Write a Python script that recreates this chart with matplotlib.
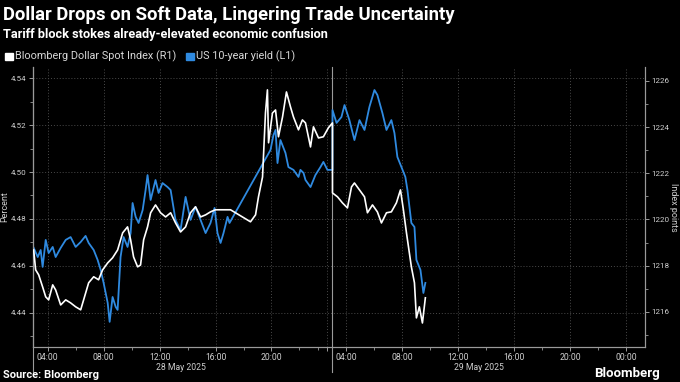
import numpy as np
import matplotlib
matplotlib.use("Agg")
import matplotlib.pyplot as plt
from matplotlib.ticker import FixedLocator, MultipleLocator, FormatStrFormatter

plt.rcParams['font.family'] = ['Roboto', 'DejaVu Sans']

# hours counted from 28 May 2025 00:00
yield_hours = [3.00, 3.29, 3.50, 3.64, 3.86, 4.07, 4.36, 4.57, 4.93, 5.29, 5.64, 6.00, 6.36, 6.71,
               6.93, 7.29, 7.57, 7.79, 8.00, 8.29, 8.43, 8.64, 8.86, 9.00, 9.21, 9.43, 9.71, 9.93,
               10.07, 10.29, 10.50, 10.79, 11.00, 11.14, 11.36, 11.71, 11.93, 12.21, 12.57, 12.79,
               13.14, 13.50, 13.86, 14.21, 14.57, 14.93, 15.29, 15.64, 15.93, 16.14, 16.36, 16.57,
               16.86, 17.00, 19.93, 20.14, 20.29, 20.43, 20.64, 21.00, 21.21, 21.57, 21.93, 22.07,
               22.29, 22.43, 22.79, 23.14, 23.50, 23.71, 24.00, 24.36,
               27.00, 27.29, 27.64, 27.86, 28.21, 28.57, 28.93, 29.29, 29.64, 30.00, 30.21, 30.57,
               30.86, 31.21, 31.43, 31.64, 31.93, 32.21, 32.36, 32.64, 32.86, 33.00, 33.29, 33.50,
               33.64]
us10y = [4.4677, 4.4638, 4.4668, 4.4596, 4.4711, 4.4655, 4.4681, 4.4638, 4.4677, 4.4711, 4.4723,
         4.4681, 4.4702, 4.4728, 4.4698, 4.4668, 4.4626, 4.4583, 4.4528, 4.4443, 4.4362, 4.4468,
         4.4426, 4.4413, 4.4638, 4.4723, 4.4681, 4.4740, 4.4868, 4.4809, 4.4783, 4.4838, 4.4923,
         4.4987, 4.4881, 4.4966, 4.4911, 4.4953, 4.4936, 4.4923, 4.4796, 4.4753, 4.4894, 4.4796,
         4.4851, 4.4796, 4.4740, 4.4783, 4.4847, 4.4740, 4.4698, 4.4740, 4.4809, 4.4783, 4.5094,
         4.5157, 4.5179, 4.5038, 4.5136, 4.5081, 4.5021, 4.5009, 4.4979, 4.5009, 4.4996, 4.4966,
         4.4936, 4.4987, 4.5021, 4.5043, 4.5009, 4.5009,
         4.5264, 4.5209, 4.5234, 4.5285, 4.5221, 4.5136, 4.5221, 4.5179, 4.5277, 4.5349, 4.5328,
         4.5251, 4.5179, 4.5221, 4.5166, 4.5064, 4.5021, 4.4979, 4.4923, 4.4783, 4.4766, 4.4626,
         4.4583, 4.4485, 4.4528]

dxy_hours = [3.00, 3.14, 3.36, 3.64, 3.86, 4.07, 4.36, 4.57, 4.93, 5.29, 5.64, 6.00, 6.36, 6.57,
             6.93, 7.29, 7.64, 7.93, 8.29, 8.64, 9.00, 9.36, 9.71, 9.93, 10.14, 10.43, 10.64, 10.86,
             11.14, 11.36, 11.71, 12.07, 12.43, 12.79, 13.14, 13.50, 13.86, 14.21, 14.57, 14.93,
             15.29, 15.64, 16.00, 17.07, 18.50, 18.86, 19.07, 19.36, 19.57, 19.71, 19.79, 20.07,
             20.29, 20.50, 20.79, 21.07, 21.36, 21.57, 21.93, 22.21, 22.43, 22.79, 23.00, 23.36,
             23.71, 24.07, 24.36,
             27.00, 27.36, 27.71, 28.07, 28.36, 28.57, 28.93, 29.29, 29.50, 29.86, 30.21, 30.50,
             30.86, 31.21, 31.57, 31.86, 32.07, 32.29, 32.64, 32.86, 33.00, 33.21, 33.43, 33.64]
dxy = [1218.68, 1217.82, 1217.60, 1217.08, 1216.65, 1216.52, 1217.17, 1216.95, 1216.30, 1216.52,
       1216.39, 1216.22, 1216.09, 1216.52, 1217.26, 1217.52, 1217.39, 1217.82, 1218.12, 1218.34,
       1218.68, 1219.42, 1219.68, 1219.12, 1218.38, 1217.95, 1218.03, 1219.12, 1219.68, 1220.29,
       1220.63, 1220.29, 1220.11, 1220.29, 1219.85, 1219.46, 1219.68, 1220.29, 1220.55, 1220.11,
       1220.20, 1220.33, 1220.42, 1220.42, 1219.90, 1220.20, 1220.98, 1221.84, 1224.61, 1225.61,
       1223.32, 1224.61, 1224.74, 1223.58, 1224.44, 1225.52, 1224.87, 1224.44, 1223.88, 1224.31,
       1224.18, 1223.14, 1224.01, 1223.53, 1223.58, 1223.97, 1224.18,
       1221.15, 1220.98, 1220.72, 1220.50, 1221.41, 1221.58, 1221.28, 1220.98, 1220.29, 1220.63,
       1220.33, 1219.85, 1220.29, 1220.33, 1220.72, 1221.28, 1220.42, 1219.42, 1217.95, 1217.26,
       1215.74, 1216.22, 1215.52, 1216.61]

tick_hours = [4, 8, 12, 16, 20, 24, 28, 32, 36, 40, 44, 48]
tick_labels = ['04:00', '08:00', '12:00', '16:00', '20:00', '', '04:00', '08:00', '12:00',
               '16:00', '20:00', '00:00']
day_labels = ['28 May 2025', '29 May 2025']


# the axis skips the quiet hours between the two sessions
def to_pos(h):
    h = np.asarray(h, dtype=float)
    return np.where(h <= 24.4, h - 3, h - 5.64)


bg = 'black'
grey = '#9a9a9a'
txt = '#cfcfcf'
blue = '#2f8ae0'

fig = plt.figure(figsize=(6.8, 3.82), dpi=100, facecolor=bg)
ax = fig.add_axes([0.0485, 0.0916, 0.9, 0.733], facecolor=bg)
ax2 = ax.twinx()

ax.plot(to_pos(yield_hours), us10y, color=blue, lw=1.3, zorder=3)
ax2.plot(to_pos(dxy_hours), dxy, color='white', lw=1.2, zorder=3)

ax.set_xlim(-0.05, 43.7)
ax.set_ylim(4.4255, 4.5447)
ax2.set_ylim(1214.48, 1226.6)

ax.yaxis.set_major_locator(FixedLocator([4.44, 4.46, 4.48, 4.50, 4.52, 4.54]))
ax.yaxis.set_minor_locator(MultipleLocator(0.01))
ax.yaxis.set_major_formatter(FormatStrFormatter('%.2f'))
ax2.yaxis.set_major_locator(FixedLocator([1216, 1218, 1220, 1222, 1224, 1226]))
ax2.yaxis.set_minor_locator(MultipleLocator(1))

ax.xaxis.set_major_locator(FixedLocator(to_pos(tick_hours)))
ax.set_xticklabels(tick_labels)
ax.xaxis.set_minor_locator(FixedLocator(to_pos(np.arange(6, 48, 4))))

for a in (ax, ax2):
    a.spines['top'].set_visible(False)
    for s in a.spines.values():
        s.set_color(grey)
        s.set_linewidth(0.8)
    a.tick_params(colors=grey, labelcolor=txt, labelsize=5.8, length=3, width=0.7, pad=1.5)
    a.tick_params(which='minor', colors=grey, length=2, width=0.6)
ax.tick_params(axis='x', labelsize=6.2)

ax.grid(True, axis='both', which='major', color='#4a4a4a', ls=(0, (1, 2)), lw=0.7)
ax.set_axisbelow(True)

# day start lines
for p in (-0.05, float(to_pos(24.36))):
    ax.plot([p, p], [-0.09, 1.0], transform=ax.get_xaxis_transform(), color=grey, lw=0.8,
            clip_on=False, zorder=2)

for h, lab in zip((13.5, 37.5), day_labels):
    ax.text(float(to_pos(h)), -0.058, lab, transform=ax.get_xaxis_transform(),
            ha='center', va='top', color=txt, fontsize=6.2)

ax.set_ylabel('Percent', color=txt, fontsize=6.5)
ax.yaxis.set_label_coords(-0.0385, 0.5)
ax2.set_ylabel('Index points', color=txt, fontsize=6.5, rotation=270, va='bottom')
ax2.yaxis.set_label_coords(1.0385, 0.5)

fig.text(0.005, 0.962, 'Dollar Drops on Soft Data, Lingering Trade Uncertainty', color='white',
         fontsize=13.3, fontweight='bold', va='center')
fig.text(0.005, 0.91, 'Tariff block stokes already-elevated economic confusion', color='white',
         fontsize=9.2, fontweight='bold', va='center')

fig.patches.append(plt.Rectangle((0.008, 0.842), 0.011, 0.02, transform=fig.transFigure,
                                 color='white'))
fig.text(0.022, 0.852, 'Bloomberg Dollar Spot Index (R1)', color='#d8d8d8', fontsize=7.8,
         va='center')
fig.patches.append(plt.Rectangle((0.274, 0.842), 0.011, 0.02, transform=fig.transFigure,
                                 color=blue))
fig.text(0.288, 0.852, 'US 10-year yield (L1)', color='#d8d8d8', fontsize=7.8, va='center')

fig.text(0.005, 0.006, 'Source: Bloomberg', color='white', fontsize=8, fontweight='bold',
         va='bottom')
fig.text(0.97, 0.006, 'Bloomberg', color='white', fontsize=9.5, fontweight='bold',
         va='bottom', ha='right')

fig.savefig('out.png', dpi=100, facecolor=bg)
